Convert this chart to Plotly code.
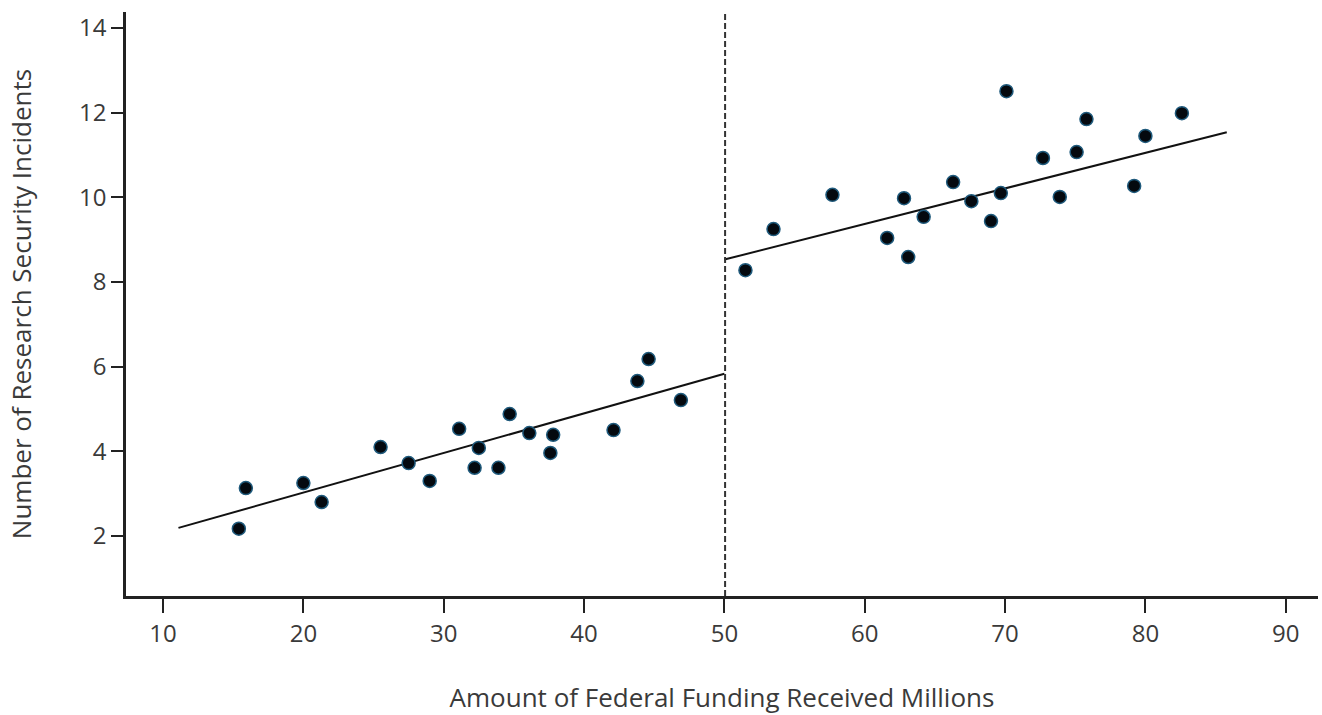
import plotly.graph_objects as go

# Institutions below the funding cutoff
below_x = [15.4, 15.9, 20.0, 21.3, 25.5, 27.5, 29.0, 31.1, 32.2, 32.5,
           33.9, 34.7, 36.1, 37.6, 37.8, 42.1, 43.8, 44.6, 46.9]
below_y = [2.17, 3.13, 3.25, 2.80, 4.10, 3.72, 3.30, 4.53, 3.61, 4.08,
           3.61, 4.88, 4.43, 3.96, 4.39, 4.50, 5.66, 6.18, 5.21]

# Institutions above the funding cutoff
above_x = [51.5, 53.5, 57.7, 61.6, 62.8, 63.1, 64.2, 66.3, 67.6, 69.0,
           69.7, 70.1, 72.7, 73.9, 75.1, 75.8, 79.2, 80.0, 82.6]
above_y = [8.28, 9.25, 10.06, 9.04, 9.98, 8.59, 9.54, 10.36, 9.91, 9.44,
           10.10, 12.51, 10.93, 10.01, 11.07, 11.85, 10.27, 11.45, 11.99]

# Fitted regression segments on each side of the cutoff
fit_below_x = [11.1, 50.0]
fit_below_y = [2.19, 5.83]
fit_above_x = [50.0, 85.8]
fit_above_y = [8.53, 11.54]

cutoff = 50.05

x_ticks = [10, 20, 30, 40, 50, 60, 70, 80, 90]
y_ticks = [2, 4, 6, 8, 10, 12, 14]

FONT = "Open Sans"
TEXT = "#3a3a3a"
AXIS = "#222222"

marker = dict(size=13, color="#04090f", line=dict(color="#1f5a7c", width=1.5))

fig = go.Figure()
fig.add_trace(go.Scatter(x=fit_below_x, y=fit_below_y, mode="lines",
                         line=dict(color="#111111", width=2), showlegend=False))
fig.add_trace(go.Scatter(x=fit_above_x, y=fit_above_y, mode="lines",
                         line=dict(color="#111111", width=2), showlegend=False))
fig.add_trace(go.Scatter(x=below_x, y=below_y, mode="markers",
                         marker=marker, showlegend=False))
fig.add_trace(go.Scatter(x=above_x, y=above_y, mode="markers",
                         marker=marker, showlegend=False))

fig.add_shape(type="line", xref="x", yref="paper", x0=cutoff, x1=cutoff,
              y0=0, y1=1, line=dict(color="#333333", width=2, dash="6px,3px"))

fig.update_layout(
    width=1322, height=715,
    margin=dict(l=126, r=4, t=12, b=119),
    paper_bgcolor="white", plot_bgcolor="white",
    font=dict(family=FONT, color=TEXT),
    xaxis=dict(
        range=[7.36, 92.3], tickvals=x_ticks, ticks="outside", ticklen=14,
        tickwidth=2, tickcolor=AXIS, showline=True, linecolor=AXIS, linewidth=2.5,
        showgrid=False, zeroline=False, tickfont=dict(size=24, color=TEXT),
        title=dict(text="Amount of Federal Funding Received Millions",
                   font=dict(size=26, color=TEXT), standoff=42),
    ),
    yaxis=dict(
        range=[0.58, 14.38], tickvals=y_ticks, ticks="outside", ticklen=12,
        tickwidth=2, tickcolor=AXIS, showline=True, linecolor=AXIS, linewidth=2.5,
        showgrid=False, zeroline=False, tickfont=dict(size=24, color=TEXT),
        title=dict(text="Number of Research Security Incidents",
                   font=dict(size=26, color=TEXT), standoff=40),
    ),
)

fig.write_html("out.html")
